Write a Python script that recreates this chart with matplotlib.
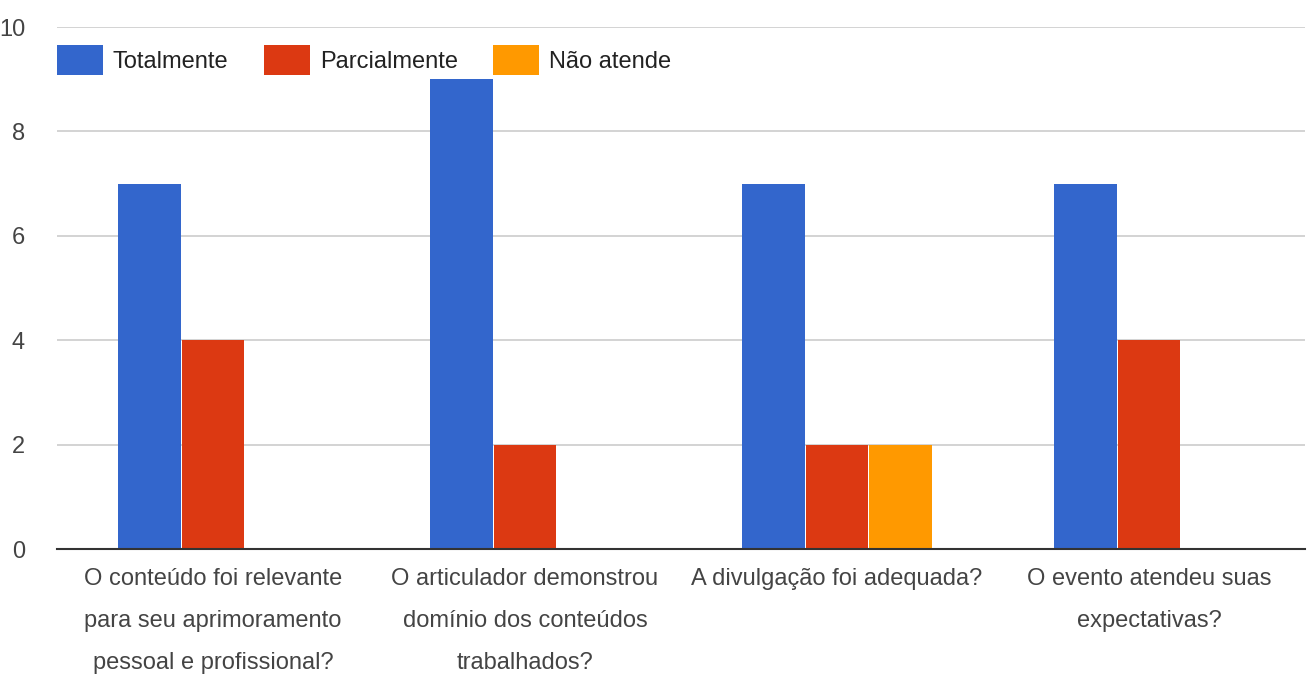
import matplotlib
matplotlib.use("Agg")
import matplotlib.pyplot as plt
import numpy as np

categories = [
    "O conteúdo foi relevante\npara seu aprimoramento\npessoal e profissional?",
    "O articulador demonstrou\ndomínio dos conteúdos\ntrabalhados?",
    "A divulgação foi adequada?",
    "O evento atendeu suas\nexpectativas?",
]
series_names = ["Totalmente", "Parcialmente", "Não atende"]
totalmente = [7, 9, 7, 7]
parcialmente = [4, 2, 2, 4]
nao_atende = [0, 0, 2, 0]
colors = ["#3366cc", "#dc3912", "#ff9900"]
yticks = [0, 2, 4, 6, 8, 10]

plt.rcParams['font.family'] = ['Liberation Sans', 'DejaVu Sans']
FS = 17

fig = plt.figure(figsize=(13.14, 6.8), dpi=100)
W, H = 1314, 680
ax = fig.add_axes([57 / W, 1 - 549 / H, (1305 - 57) / W, (549 - 27) / H])

x = np.arange(len(categories))
bw = 0.2
offs = [-0.204, 0.0, 0.204]
for vals, name, c, o in zip([totalmente, parcialmente, nao_atende], series_names, colors, offs):
    ax.bar(x + o, vals, width=bw, color=c, label=name, zorder=3, linewidth=0)

ax.set_xlim(-0.5, 3.5)
ax.set_ylim(0, 10)
ax.set_yticks(yticks)
ax.set_yticklabels([str(v) for v in yticks])
ax.grid(axis='y', color='#cccccc', linewidth=1.2, zorder=0)
for s in ['top', 'right', 'left']:
    ax.spines[s].set_visible(False)
ax.spines['bottom'].set_color('#333333')
ax.spines['bottom'].set_linewidth(1.5)
ax.spines['bottom'].set_zorder(4)
ax.set_xticks(x)
ax.set_xticklabels(categories, fontsize=FS, color='#444444', linespacing=2.15, va='top')
ax.tick_params(axis='x', length=0, pad=14)
ax.tick_params(axis='y', length=0, pad=23, labelsize=FS, labelcolor='#444444')

leg = ax.legend(loc='upper left', bbox_to_anchor=(0.0, 0.966), ncol=3, frameon=False,
                fontsize=FS, handlelength=1.95, handleheight=1.6, handletextpad=0.42,
                columnspacing=1.5, borderaxespad=0, borderpad=0)
for t in leg.get_texts():
    t.set_color('#222222')

fig.savefig("out.png", dpi=100, facecolor='white')
